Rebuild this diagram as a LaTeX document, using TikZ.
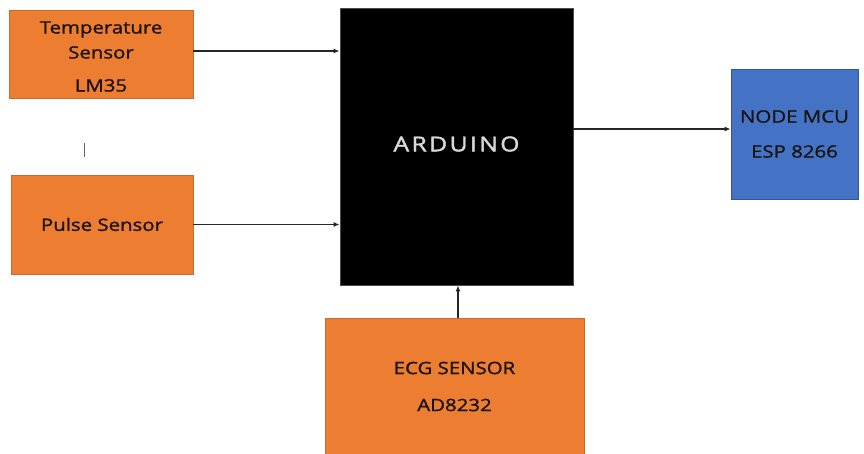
\documentclass[tikz,border=0pt]{standalone}
\usepackage{fontspec}
\setmainfont[FakeStretch=1.2,FakeBold=1.2]{Open Sans}
\usepackage{xcolor}
\usepackage{tikz}
\usetikzlibrary{arrows.meta,positioning}
\definecolor{sensororange}{RGB}{237,125,49}
\definecolor{sensorborder}{RGB}{200,105,45}
\definecolor{mcublue}{RGB}{68,114,196}
\definecolor{mcuborder}{RGB}{50,85,150}
\definecolor{textdark}{RGB}{25,20,15}
\tikzset{
  sensorbox/.style={draw=sensorborder, fill=sensororange, line width=0.8pt,
    align=center, text=textdark, inner sep=0pt,
    font=\fontsize{17}{25}\selectfont},
  mcubox/.style={draw=mcuborder, fill=mcublue, line width=0.8pt,
    align=center, text=textdark, inner sep=0pt,
    font=\fontsize{17}{25}\selectfont},
  boardbox/.style={draw=black!70, fill=black, line width=0.8pt,
    text=white!85!black, inner sep=0pt,
    font=\fontsize{20.5}{24}\selectfont\addfontfeatures{LetterSpace=12,FakeBold=2}},
  flow/.style={-{Latex[length=6pt,width=5pt]}, line width=1.3pt, draw=black!85}
}

\begin{document}
\begin{tikzpicture}[x=1pt, y=-1pt]
\useasboundingbox (0,0) rectangle (864,453);

\node[boardbox, minimum width=233pt, minimum height=277pt] (arduino)
  at (456.5,146.5) {\raisebox{2.5pt}[\height][\depth]{ARDUINO}};
\node[sensorbox, minimum width=184pt, minimum height=88pt] (temp)
  at (101,54) {\raisebox{-3.5pt}[\height][\depth]{\setlength{\tabcolsep}{0pt}%
    \begin{tabular}{c}Temperature\\Sensor\\[8pt]LM35\end{tabular}}};
\node[sensorbox, minimum width=182pt, minimum height=99pt] (pulse)
  at (102,224.5) {Pulse Sensor};
\node[mcubox, minimum width=127pt, minimum height=130pt] (mcu)
  at (794.5,134) {NODE MCU\\[10pt]ESP 8266};
\node[sensorbox, minimum width=259pt, minimum height=137pt] (ecg)
  at (454.5,386.5) {ECG SENSOR\\[12pt]AD8232};

% stray mark between the two left sensors
\draw[black!60, line width=0.8pt] (84,143) -- (84,157);

\draw[flow] ([yshift=3pt]temp.east) -- ([yshift=3pt]temp.east -| arduino.west);
\draw[flow] (pulse.east) -- (pulse.east -| arduino.west);
\draw[flow] ([yshift=5pt]mcu.west -| arduino.east) -- ([yshift=5pt]mcu.west);
\draw[flow] ([xshift=3.5pt]ecg.north) -- ([xshift=3.5pt]ecg.north |- arduino.south);
\end{tikzpicture}
\end{document}
